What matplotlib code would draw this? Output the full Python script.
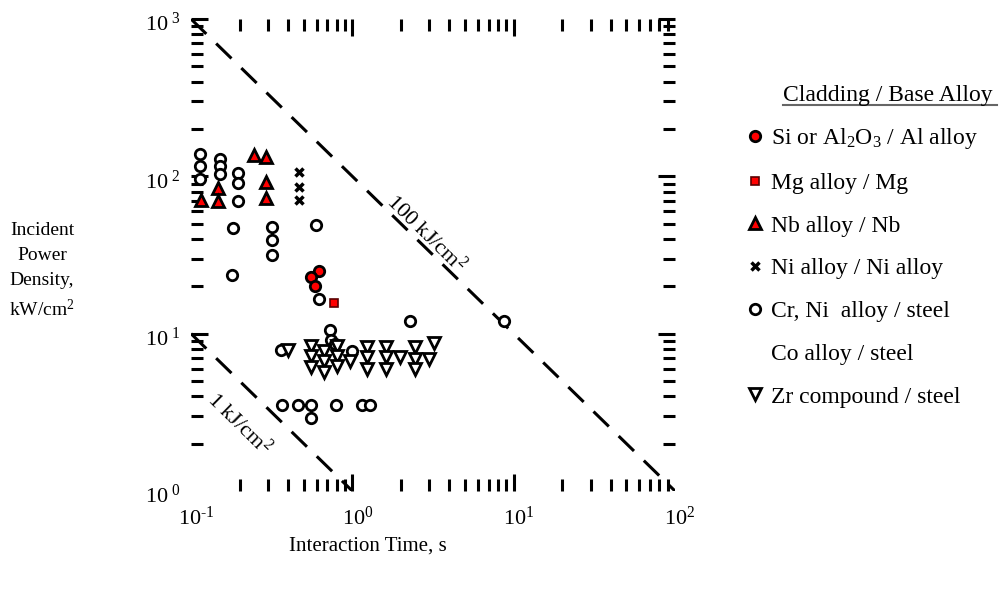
import matplotlib
matplotlib.use("Agg")
import matplotlib.pyplot as plt
import matplotlib.transforms as mtransforms
from matplotlib.lines import Line2D
from matplotlib.ticker import LogLocator, NullFormatter

plt.rcParams['font.family'] = ['Liberation Serif', 'DejaVu Serif']
plt.rcParams['mathtext.fontset'] = 'custom'
plt.rcParams['mathtext.rm'] = 'Liberation Serif'
plt.rcParams['mathtext.it'] = 'Liberation Serif:italic'

# interaction time (s) / incident power density (kW/cm2)
al_time = [0.618, 0.556, 0.584]
al_power = [25.2, 23.0, 20.2]

mg_time = [0.769]
mg_power = [15.6]

nb_time = [0.116, 0.147, 0.147, 0.246, 0.291, 0.291, 0.291]
nb_power = [70.8, 84.0, 69.8, 136, 133, 91.6, 72.6]

ni_time = [0.464, 0.464, 0.464]
ni_power = [106, 85.1, 70.8]

steel_time = [0.113, 0.113, 0.113, 0.152, 0.152, 0.152, 0.195, 0.195, 0.195,
              0.182, 0.179, 0.317, 0.317, 0.317, 0.597, 0.618, 0.723, 0.740,
              0.778, 0.989, 2.29, 8.76, 0.361, 0.369, 0.458, 0.556, 0.556,
              0.789, 1.14, 1.29]
steel_power = [139.5, 116, 95.7, 128, 116, 103, 104.6, 90.3, 69.2,
               46.9, 23.7, 47.5, 39.5, 31.5, 48.7, 16.7, 10.5, 9.13,
               8.57, 7.79, 12.0, 12.1, 7.85, 3.51, 3.51, 3.51, 2.89,
               3.51, 3.51, 3.51]

zr_time = [0.397, 0.556, 0.556, 0.556, 0.664, 0.664, 0.664, 0.804, 0.804, 0.804,
           0.965, 1.23, 1.23, 1.23, 1.62, 1.62, 1.62, 1.98, 2.46, 2.46, 2.46,
           2.98, 3.23]
zr_power = [7.85, 8.37, 7.24, 6.11, 7.79, 6.73, 5.69, 8.37, 7.24, 6.26,
            6.73, 8.17, 7.06, 5.97, 8.17, 7.06, 5.97, 7.06, 8.17, 6.89, 5.97,
            6.89, 8.78]

# constant energy density lines, kJ/cm2
energy_levels = [100, 1]
energy_labels = ['100 kJ/cm$^2$', '1 kJ/cm$^2$']
line_time = [[0.1, 100], [0.1, 1]]

x_ticks = [0.1, 1, 10, 100]
x_ticklabels = ['10$^{\\text{-}1}$', '10$^{0}$', '10$^{1}$', '10$^{2}$']
y_ticks = [1, 10, 100, 1000]
y_ticklabels = ['10$^{\\ 0}$', '10$^{\\ 1}$', '10$^{\\ 2}$', '10$^{\\ 3}$']

W, H = 999, 594
fig = plt.figure(figsize=(W / 100, H / 100), dpi=100)
ax = fig.add_axes([191 / W, 1 - 491 / H, 484 / W, 472 / H])
ax.set_xscale('log')
ax.set_yscale('log')
ax.set_xlim(0.1, 100)
ax.set_ylim(1, 1000)

for e, t in zip(energy_levels, line_time):
    ax.plot(t, [e / v for v in t], color='black', lw=2.2,
            dashes=(7, 4.5), solid_capstyle='butt', zorder=1)

ax.text(2.84, 43.5, energy_labels[0], rotation=-44.5, fontsize=16,
        ha='center', va='center', rotation_mode='anchor')
ax.text(0.198, 2.68, energy_labels[1], rotation=-44.5, fontsize=16,
        ha='center', va='center', rotation_mode='anchor')

h_al, = ax.plot(al_time, al_power, 'o', ms=7.5, mfc='red', mec='black', mew=2,
                label='Si or Al$_2$O$_3$ / Al alloy', zorder=4)
h_mg, = ax.plot(mg_time, mg_power, 's', ms=6, mfc='red', mec='#5a0000', mew=1.2,
                label='Mg alloy / Mg', zorder=4)
h_nb, = ax.plot(nb_time, nb_power, '^', ms=8.5, mfc='red', mec='black', mew=2,
                label='Nb alloy / Nb', zorder=4)
h_ni, = ax.plot(ni_time, ni_power, 'x', ms=6, color='black', mew=2.5,
                label='Ni alloy / Ni alloy', zorder=4)
h_st, = ax.plot(steel_time, steel_power, 'o', ms=7.5, mfc='white', mec='black',
                mew=2, label='Cr, Ni  alloy / steel', zorder=3)
h_co = Line2D([], [], linestyle='none', marker='None', label='Co alloy / steel')
h_zr, = ax.plot(zr_time, zr_power, 'v', ms=8.5, mfc='white', mec='black',
                mew=2, label='Zr compound / steel', zorder=3)

# axes: no frame, inward ticks on all four sides
for s in ax.spines.values():
    s.set_visible(False)
ax.set_xticks(x_ticks)
ax.set_xticklabels(x_ticklabels, fontsize=16)
ax.set_yticks(y_ticks)
ax.set_yticklabels(y_ticklabels, fontsize=16)
ax.xaxis.set_minor_locator(LogLocator(base=10, subs=range(2, 10)))
ax.yaxis.set_minor_locator(LogLocator(base=10, subs=range(2, 10)))
ax.xaxis.set_minor_formatter(NullFormatter())
ax.yaxis.set_minor_formatter(NullFormatter())
ax.tick_params(which='both', direction='in', top=True, right=True, width=2.2)
ax.tick_params(which='major', length=12, pad=8)
ax.tick_params(which='minor', length=8.5)
ax.tick_params(axis='x', which='major', pad=11)
xt = ax.xaxis.get_major_ticks()
for t in (xt[0], xt[-1]):
    t.tick1line.set_visible(False)
    t.tick2line.set_visible(False)
yt = ax.yaxis.get_major_ticks()
yt[0].tick1line.set_visible(False)
yt[0].tick2line.set_visible(False)
shift = mtransforms.ScaledTranslation(5 / 100, 0, fig.dpi_scale_trans)
for lab in ax.get_xticklabels():
    lab.set_transform(lab.get_transform() + shift)
down = mtransforms.ScaledTranslation(0, -3 / 100, fig.dpi_scale_trans)
for lab in ax.get_yticklabels():
    lab.set_transform(lab.get_transform() + down)

ax.set_xlabel('Interaction Time, s', fontsize=15, ha='center', va='center')
ax.xaxis.set_label_coords(0.366, -0.117)
ax.set_ylabel('Incident\nPower\nDensity,\nkW/cm$^2$', fontsize=14, rotation=0,
              ha='center', va='center', linespacing=1.6)
ax.yaxis.set_label_coords(-0.308, 0.465)

# legend with underlined header
fig.text(783 / W, 1 - 95 / H, 'Cladding / Base Alloy', fontsize=17, va='center')
fig.add_artist(Line2D([783 / W, 997 / W], [1 - 105 / H, 1 - 105 / H],
                      color='#666666', lw=1.5))
fig.legend(handles=[h_al, h_mg, h_nb, h_ni, h_st, h_co, h_zr],
           loc='upper left', bbox_to_anchor=(743 / W, 1 - 126 / H),
           frameon=False, fontsize=17, handlelength=1.0, handletextpad=0.2,
           labelspacing=0.9, borderpad=0, borderaxespad=0, numpoints=1)

fig.savefig('out.png', dpi=100)
